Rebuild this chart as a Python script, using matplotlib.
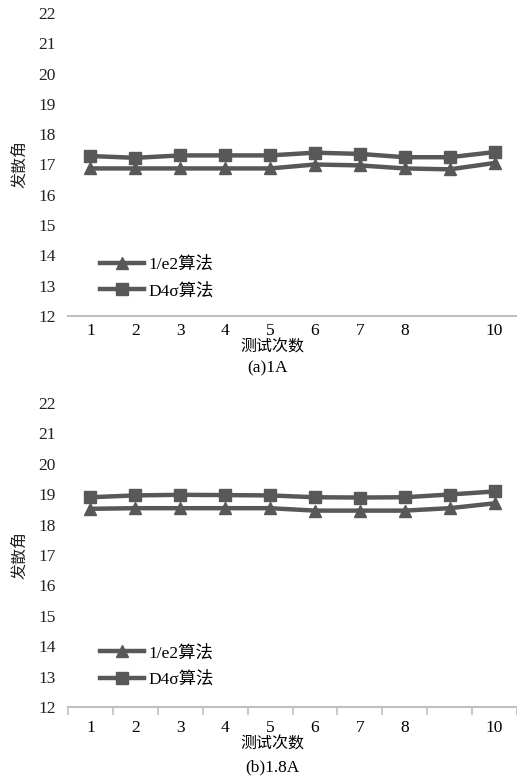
import matplotlib
matplotlib.use('Agg')
import matplotlib.pyplot as plt

plt.rcParams['font.family'] = ['Liberation Serif', 'Noto Sans CJK SC']
plt.rcParams['axes.unicode_minus'] = False

runs = [1, 2, 3, 4, 5, 6, 7, 8, 9, 10]
tick_labels = ['1', '2', '3', '4', '5', '6', '7', '8', '', '10']

e2_1a = [16.87, 16.87, 16.87, 16.87, 16.87, 17.0, 16.97, 16.87, 16.84, 17.05]
d4s_1a = [17.28, 17.22, 17.3, 17.3, 17.3, 17.39, 17.35, 17.24, 17.24, 17.41]
e2_18a = [18.52, 18.54, 18.54, 18.54, 18.54, 18.46, 18.46, 18.46, 18.54, 18.7]
d4s_18a = [18.9, 18.96, 18.98, 18.97, 18.96, 18.9, 18.89, 18.9, 18.99, 19.09]

names = ['1/e2算法', 'D4σ算法']
captions = ['(a)1A', '(b)1.8A']

line_color = '#585858'
W, H = 517, 778


def draw_panel(ax, e2, d4s, show_ticks, leg_y):
    ax.plot(runs, e2, '-^', color=line_color, lw=3.2, ms=9, label=names[0])
    ax.plot(runs, d4s, '-s', color=line_color, lw=3.2, ms=8.5, label=names[1])
    ax.set_xlim(0.5, 10.5)
    ax.set_ylim(12, 22)
    ax.set_yticks(range(12, 23))
    ax.set_xticks(runs)
    ax.set_xticklabels(tick_labels)
    for s in ['top', 'right', 'left']:
        ax.spines[s].set_visible(False)
    ax.spines['bottom'].set_color('#c0c0c0')
    ax.spines['bottom'].set_linewidth(1.5)
    ax.tick_params(axis='y', length=0, pad=9, labelsize=12.5, labelcolor='#222222')
    if show_ticks:
        ax.set_xticks([x + 0.5 for x in range(0, 11)], minor=True)
        ax.tick_params(axis='x', which='minor', length=6, width=1.2, color='#c0c0c0')
        ax.tick_params(axis='x', which='major', length=0, pad=9, labelsize=12.5)
    else:
        ax.tick_params(axis='x', which='major', length=0, pad=5, labelsize=12.5)
    ax.set_ylabel('发散角', fontsize=11.5, color='#222222')
    ax.yaxis.set_label_coords(-0.088, 0.5)
    ax.legend(loc='upper left', bbox_to_anchor=(0.072, leg_y), frameon=False,
              borderpad=0, borderaxespad=0, handlelength=2.5, handletextpad=0.3,
              labelspacing=0.6, fontsize=12.5, markerscale=1.0)


fig = plt.figure(figsize=(W / 100, H / 100), dpi=100)
ax1 = fig.add_axes([68 / W, 1 - 316 / H, (W - 68) / W, (316 - 13) / H])
ax2 = fig.add_axes([68 / W, 1 - 707 / H, (W - 68) / W, (707 - 403) / H])

draw_panel(ax1, e2_1a, d4s_1a, False, 0.197)
draw_panel(ax2, e2_18a, d4s_18a, True, 0.204)

fig.text(272 / W, 1 - 348 / H, '测试次数', ha='center', va='center', fontsize=11.5)
fig.text(268 / W, 1 - 368 / H, captions[0], ha='center', va='center', fontsize=12.5)
fig.text(272 / W, 1 - 745 / H, '测试次数', ha='center', va='center', fontsize=11.5)
fig.text(272 / W, 1 - 767 / H, captions[1], ha='center', va='center', fontsize=12.5)

fig.savefig('out.png', dpi=100)
